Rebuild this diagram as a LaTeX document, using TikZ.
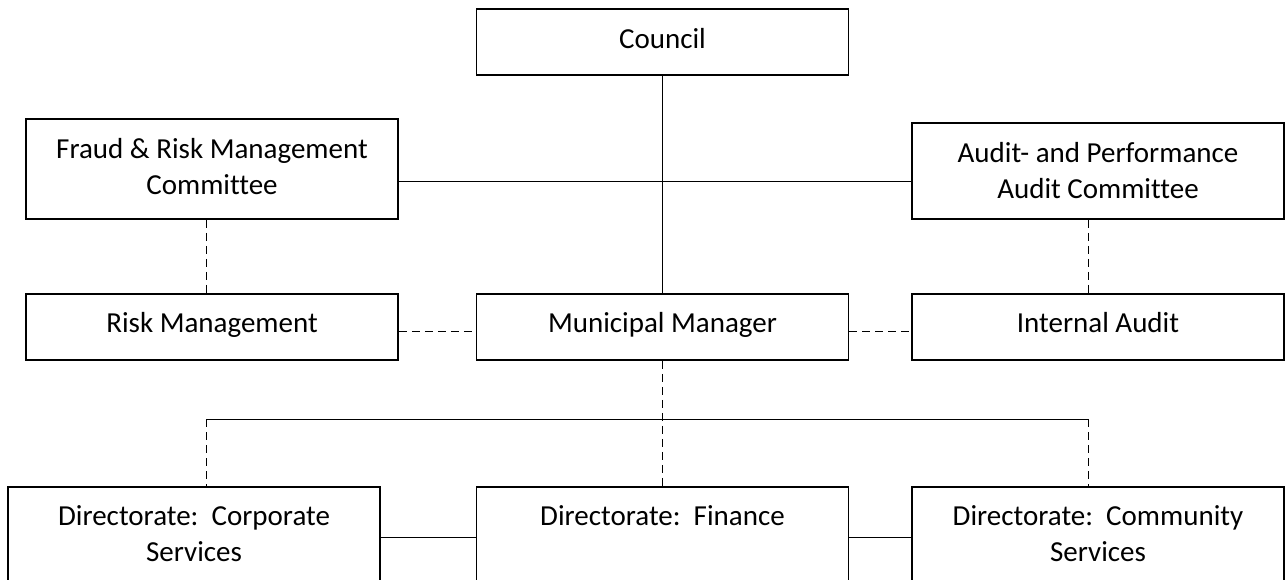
\documentclass[tikz,border=0pt]{standalone}
\usepackage{fontspec}
\setmainfont{Carlito}[Ligatures=NoCommon]
\begin{document}
\begin{tikzpicture}[x=1pt,y=-1pt,
  box/.style={draw,rectangle,line width=1.8pt,minimum width=372pt,inner sep=0pt},
  lbl/.style={font=\fontsize{29}{36}\selectfont,align=center,inner sep=0pt,anchor=base},
  conn/.style={line width=1pt},
  dsh/.style={line width=1pt,dash pattern=on 8pt off 5pt}]
\useasboundingbox (0,0) rectangle (1286,579);
\clip (0,0) rectangle (1286,579);
% boxes
\node[box,minimum height=66pt] (council) at (662.5,42) {};
\node[box,minimum height=100pt] (fraud) at (212,169) {};
\node[box,minimum height=96pt] (audit) at (1098,171) {};
\node[box,minimum height=66pt] (risk) at (212,327) {};
\node[box,minimum height=66pt] (mm) at (662.5,327) {};
\node[box,minimum height=66pt] (ia) at (1098,327) {};
\node[box,minimum height=133pt] (corp) at (194,553.5) {};
\node[box,minimum height=133pt] (fin) at (662.5,553.5) {};
\node[box,minimum height=133pt] (comm) at (1098,553.5) {};
% labels (base anchor = baseline of the last line)
\node[lbl] (councilT) at (662.5,48) {Council};
\node[lbl] (fraudT) at (212,194) {Fraud \& Risk Management\\Committee};
\node[lbl] (auditT) at (1098,198) {Audit- and Performance\\Audit Committee};
\node[lbl] (riskT) at (212,332) {Risk Management};
\node[lbl] (mmT) at (662.5,332) {Municipal Manager};
\node[lbl] (iaT) at (1098,332) {Internal Audit};
\node[lbl] (corpT) at (194,561) {Directorate:\ \ Corporate\\Services};
\node[lbl] (finT) at (662.5,525) {Directorate:\ \ Finance};
\node[lbl] (commT) at (1098,561) {Directorate:\ \ Community\\Services};
% helper coordinates
\coordinate (hl) at (0,181);
\coordinate (ml) at (0,331);
\coordinate (bl) at (0,419);
\coordinate (dl) at (0,537.5);
\coordinate (fs) at ([xshift=-6pt]fraud.south);
\coordinate (rn) at ([xshift=-6pt]risk.north);
\coordinate (as) at ([xshift=-10pt]audit.south);
\coordinate (in) at ([xshift=-10pt]ia.north);
\coordinate (cn) at ([xshift=12pt]corp.north);
\coordinate (on) at ([xshift=-10pt]comm.north);
% connectors
\draw[conn] (council.south) -- (mm.north);
\draw[conn] (fraud.east |- hl) -- (audit.west |- hl);
\draw[dsh] (fs) -- (rn);
\draw[dsh] (as) -- (in);
\draw[dsh] (risk.east |- ml) -- (mm.west |- ml);
\draw[dsh] (mm.east |- ml) -- (ia.west |- ml);
\draw[dsh] (mm.south) -- (fin.north);
\draw[conn] (cn |- bl) -- (on |- bl);
\draw[dsh] (cn |- bl) -- (cn);
\draw[dsh] (on |- bl) -- (on);
\draw[conn] (corp.east |- dl) -- (fin.west |- dl);
\draw[conn] (fin.east |- dl) -- (comm.west |- dl);
\end{tikzpicture}
\end{document}
